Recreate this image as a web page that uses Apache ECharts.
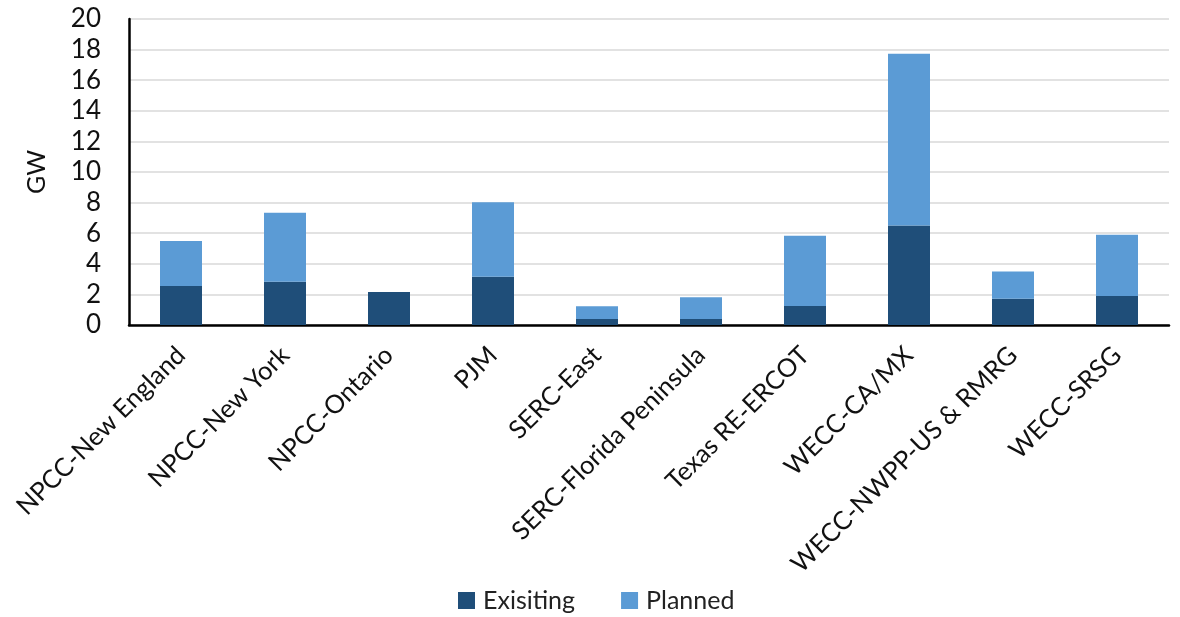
<!DOCTYPE html>
<html>
<head>
<meta charset="utf-8">
<script src="https://cdn.jsdelivr.net/npm/echarts@6/dist/echarts.min.js"></script>
<style>html,body{margin:0;padding:0;background:#fff}#c{width:1180px;height:617px}</style>
</head>
<body>
<div id="c"></div>
<script>
const categories = ["NPCC-New England","NPCC-New York","NPCC-Ontario","PJM","SERC-East","SERC-Florida Peninsula","Texas RE-ERCOT","WECC-CA/MX","WECC-NWPP-US & RMRG","WECC-SRSG"];
const existing = [2.55, 2.82, 2.15, 3.16, 0.4, 0.4, 1.25, 6.5, 1.72, 1.9];
const planned  = [2.94, 4.52, 0,    4.86, 0.82, 1.41, 4.59, 11.23, 1.77, 4.0];
const yTicks = [0, 20, 2];
const FONT = "Lato, 'Open Sans', sans-serif";
const chart = echarts.init(document.getElementById('c'));
chart.setOption({
  animation: false,
  grid: {left: 129, right: 11, top: 19, bottom: 292, containLabel: false},
  legend: {
    data: ['Exisiting', 'Planned'],
    left: 453, top: 583,
    itemWidth: 17, itemHeight: 17, itemGap: 46,
    icon: 'rect',
    textStyle: {fontFamily: FONT, fontSize: 25, color: '#222', padding: [0,0,0,3]}
  },
  xAxis: {
    type: 'category', data: categories,
    axisLine: {lineStyle: {color: '#000', width: 2.5}},
    axisTick: {show: false},
    axisLabel: {rotate: 45, fontFamily: FONT, fontSize: 25.5, color: '#111', margin: 26, interval: 0}
  },
  yAxis: {
    type: 'value', min: yTicks[0], max: yTicks[1], interval: yTicks[2],
    name: 'GW', nameLocation: 'middle', nameGap: 58, nameRotate: 90,
    nameTextStyle: {fontFamily: FONT, fontSize: 25, color: '#111', padding: [0,0,22,0]},
    axisLine: {show: true, lineStyle: {color: '#000', width: 2.5}},
    axisTick: {show: false},
    axisLabel: {fontFamily: FONT, fontSize: 26, color: '#111', margin: 28},
    splitLine: {lineStyle: {color: '#d9d9d9', width: 1.5}}
  },
  series: [
    {name: 'Exisiting', type: 'bar', stack: 'a', data: existing, barWidth: 42,
     itemStyle: {color: '#1F4E79'}},
    {name: 'Planned', type: 'bar', stack: 'a', data: planned, barWidth: 42,
     itemStyle: {color: '#5B9BD5'}}
  ]
});
</script>
</body>
</html>
